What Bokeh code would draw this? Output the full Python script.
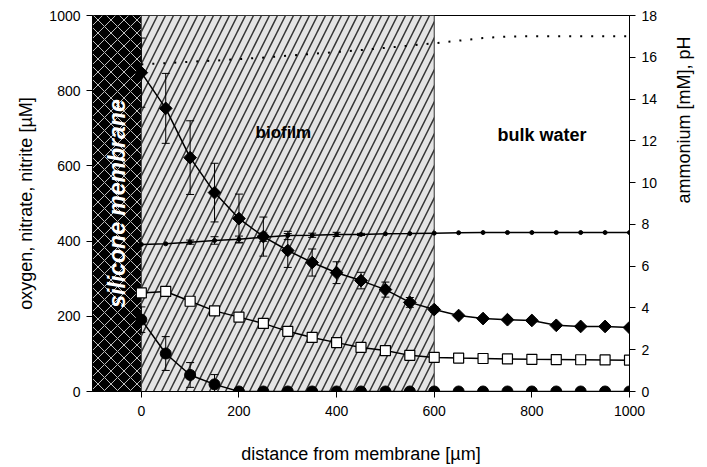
import math
from bokeh.plotting import figure
from bokeh.models import Range1d, LinearAxis, FixedTicker, Whisker, ColumnDataSource, Label, TeeHead
from bokeh.embed import file_html
from bokeh.resources import INLINE

# ---- data ----
distance = [0, 50, 100, 150, 200, 250, 300, 350, 400, 450, 500,
            550, 600, 650, 700, 750, 800, 850, 900, 950, 1000]
# oxygen [uM] (filled diamonds)
oxygen = [848, 753, 622, 529, 460, 412, 375, 343, 316, 295, 271,
          237, 218, 202, 194, 191, 189, 176, 173, 173, 170]
oxygen_err = [92, 93, 98, 78, 65, 52, 45, 36, 29, 22, 20,
              13, 8, 0, 0, 0, 0, 0, 0, 0, 0]
# nitrite [uM] (filled circles)
nitrite = [191, 101, 44, 19, 0, 0, 0, 0, 0, 0, 0,
           0, 0, 0, 0, 0, 0, 0, 0, 0, 0]
nitrite_err = [34, 45, 33, 26, 0, 0, 0, 0, 0, 0, 0,
               0, 0, 0, 0, 0, 0, 0, 0, 0, 0]
# nitrate [uM] (dotted line)
nitrate = [870, 873, 877, 880, 884, 888, 893, 898, 903, 908, 914,
           920, 926, 933, 940, 944, 945, 945, 945, 945, 945]
# ammonium [mM] (open squares)
ammonium = [4.72, 4.79, 4.32, 3.86, 3.56, 3.26, 2.88, 2.59, 2.34, 2.11, 1.96,
            1.73, 1.63, 1.60, 1.58, 1.56, 1.54, 1.53, 1.52, 1.51, 1.50]
# pH (small dots)
ph = [7.04, 7.07, 7.15, 7.23, 7.29, 7.39, 7.47, 7.48, 7.52, 7.52, 7.55,
      7.56, 7.58, 7.60, 7.61, 7.61, 7.61, 7.61, 7.61, 7.61, 7.61]
ph_err = [0, 0, 0.1, 0.18, 0.15, 0.2, 0.2, 0.1, 0.1, 0.05, 0,
          0, 0, 0, 0, 0, 0, 0, 0, 0, 0]

zone_names = ["silicone membrane", "biofilm", "bulk water"]
zone_start = [-100, 0, 600]
zone_end = [0, 600, 1000]

x_ticks = [0, 200, 400, 600, 800, 1000]
left_ticks = [0, 200, 400, 600, 800, 1000]
right_ticks = [0, 2, 4, 6, 8, 10, 12, 14, 16, 18]

FONT = "Liberation Sans"

p = figure(width=707, height=467, x_range=Range1d(-100, 1000), y_range=Range1d(0, 1000),
           output_backend="svg", toolbar_location=None,
           min_border_left=92, min_border_right=77, min_border_top=15, min_border_bottom=76)
p.extra_y_ranges = {"right": Range1d(0, 18)}
p.grid.visible = False
p.outline_line_color = "black"
p.outline_line_width = 1
p.background_fill_color = "white"
p.border_fill_color = "white"

# zones
p.quad(left=[zone_start[0]], right=[zone_end[0]], bottom=[0], top=[1000],
       fill_color="black", line_color=None,
       hatch_pattern="diagonal_cross", hatch_color="white", hatch_scale=13,
       hatch_weight=1, hatch_alpha=0.75, level="underlay")
p.quad(left=[zone_start[1]], right=[zone_end[1]], bottom=[0], top=[1000],
       fill_color="#e4e4e4", line_color="#333333", line_width=1,
       hatch_pattern="right_diagonal_line", hatch_color="#353535", hatch_scale=16,
       hatch_weight=1.5, level="underlay")

# lines
p.line(distance, nitrate, line_color="black", line_width=2, line_dash="2 9")
p.line(distance, ph, line_color="black", line_width=1.5, y_range_name="right")
p.line(distance, oxygen, line_color="black", line_width=1.5)
p.line(distance, ammonium, line_color="black", line_width=1.5, y_range_name="right")
p.line(distance, nitrite, line_color="black", line_width=1.5)


def whisk(vals, errs, y_range_name="default"):
    xs, up, lo = [], [], []
    for d, v, e in zip(distance, vals, errs):
        if e > 0:
            xs.append(d)
            up.append(v + e)
            lo.append(v - e)
    src = ColumnDataSource(dict(x=xs, upper=up, lower=lo))
    w = Whisker(base="x", upper="upper", lower="lower", source=src, dimension="height",
                line_color="black", line_width=1, y_range_name=y_range_name,
                upper_head=TeeHead(size=8, line_width=1, line_color="black"),
                lower_head=TeeHead(size=8, line_width=1, line_color="black"))
    p.add_layout(w)


whisk(oxygen, oxygen_err)
whisk(nitrite, nitrite_err)
whisk(ph, ph_err, "right")

# markers
p.scatter(distance, ph, marker="circle", size=4, fill_color="black", line_color="black",
          y_range_name="right")
p.scatter(distance, oxygen, marker="square", angle=math.pi / 4, size=9,
          fill_color="black", line_color="black")
p.scatter(distance, ammonium, marker="square", size=10, fill_color="white", line_color="black",
          line_width=1.2, y_range_name="right")
p.scatter(distance, nitrite, marker="circle", size=11, fill_color="black", line_color="black")

# axes
p.xaxis.ticker = FixedTicker(ticks=x_ticks)
p.yaxis.ticker = FixedTicker(ticks=left_ticks)
p.xaxis.axis_label = "distance from membrane [µm]"
p.yaxis.axis_label = "oxygen, nitrate, nitrite [µM]"
right_axis = LinearAxis(y_range_name="right", ticker=FixedTicker(ticks=right_ticks),
                        axis_label="ammonium [mM], pH")
p.add_layout(right_axis, "right")

for ax in [p.xaxis[0], p.yaxis[0], right_axis]:
    ax.axis_line_color = "black"
    ax.axis_line_width = 1
    ax.major_tick_line_color = "black"
    ax.major_tick_out = 6
    ax.major_tick_in = 0
    ax.minor_tick_line_color = None
    ax.major_label_text_font = FONT
    ax.major_label_text_font_size = "14px"
    ax.major_label_text_color = "black"
    ax.axis_label_text_font = FONT
    ax.axis_label_text_font_size = "18px"
    ax.axis_label_text_font_style = "normal"
    ax.axis_label_text_color = "black"
    ax.major_label_standoff = 6

p.xaxis[0].major_label_standoff = 8
p.xaxis[0].axis_label_standoff = 25
p.yaxis[0].axis_label_standoff = 10
right_axis.major_label_standoff = 6
right_axis.axis_label_standoff = 24
right_axis.axis_label_orientation = math.pi / 2

# zone labels
p.add_layout(Label(x=-50, y=500, text=zone_names[0], angle=90, angle_units="deg",
                   text_align="center", text_baseline="middle", text_color="white",
                   text_font=FONT, text_font_size="23px", text_font_style="bold italic"))
p.add_layout(Label(x=291, y=690, text=zone_names[1], text_align="center",
                   text_baseline="middle", text_color="black",
                   text_font=FONT, text_font_size="17px", text_font_style="bold"))
p.add_layout(Label(x=821, y=681, text=zone_names[2], text_align="center",
                   text_baseline="middle", text_color="black",
                   text_font=FONT, text_font_size="18px", text_font_style="bold"))

open("out.html", "w").write(file_html(p, INLINE))
